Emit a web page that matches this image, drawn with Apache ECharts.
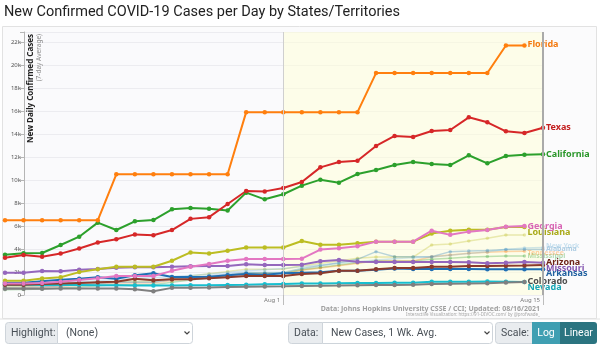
<!DOCTYPE html>
<html>
<head>
<meta charset="utf-8">
<script src="https://cdn.jsdelivr.net/npm/echarts@6/dist/echarts.min.js"></script>
<style>
  html, body { margin: 0; padding: 0; background: #fff; }
  #chart { width: 600px; height: 345px; }
</style>
</head>
<body>
<div id="chart"></div>
<script>
// Days shown on the x axis (7-day averages)
const dates = [
  'Jul 17','Jul 18','Jul 19','Jul 20','Jul 21','Jul 22','Jul 23','Jul 24','Jul 25','Jul 26',
  'Jul 27','Jul 28','Jul 29','Jul 30','Jul 31','Aug 1','Aug 2','Aug 3','Aug 4','Aug 5',
  'Aug 6','Aug 7','Aug 8','Aug 9','Aug 10','Aug 11','Aug 12','Aug 13','Aug 14','Aug 15'
];
const xTickLabels = ['Aug 1', 'Aug 15'];
const yTickLabels = ['0','2k','4k','6k','8k','10k','12k','14k','16k','18k','20k','22k'];

// New daily cases, 7-day average
const florida = [6500,6500,6500,6500,6500,6500,10500,10500,10500,10500,10500,10500,10500,15900,15900,15900,15900,15900,15900,15900,19300,19300,19300,19300,19300,19300,19300,21700,21700];
const texas = [3240,3480,3330,3600,4050,4570,4850,5270,5190,5650,6620,6770,7910,9040,9010,9300,9830,11100,11570,11680,12960,13830,13740,14260,14350,15450,15020,14230,14090,14550];
const california = [3500,3620,3650,4350,5070,6290,5650,6410,6520,7450,7560,7500,7340,8900,8320,8760,9510,10030,9770,10520,10870,11300,11570,11390,11300,12150,11450,12090,12200,12230];
const georgia = [1000,1000,1050,1150,1300,1450,1650,1650,1650,2100,2450,2700,2980,3130,3130,3130,3160,3950,4070,4240,4640,4640,4640,5590,5230,5510,5650,5940,6000];
const louisiana = [1240,1240,1440,1540,1990,2230,2460,2460,2460,2980,3700,3600,3850,4130,4130,4130,4690,4370,4370,4500,4640,4640,4640,5340,5580,5670,5680,5910,5910];
const missouri = [1940,1940,2090,2070,2200,2260,2360,2410,2420,2460,2510,2520,2530,2670,2610,2610,2640,2930,3040,2900,2870,2870,2870,2870,2870,2840,2760,2810,2870,2810];
const arizona = [900,900,950,1000,1050,1100,1150,1420,1280,1360,1380,1450,1550,1650,1650,1650,1830,1890,2110,2110,2230,2350,2350,2460,2460,2520,2520,2550,2560,2600];
const arkansas = [1070,1070,1200,1330,1420,1540,1420,1710,1890,1560,1560,1590,1710,1830,1770,1890,1940,1970,2110,2110,2200,2300,2270,2270,2270,2270,2250,2240,2240,2230];
const colorado = [540,540,540,560,560,560,560,500,330,620,640,660,690,720,740,760,790,800,820,850,870,880,900,960,980,1000,1030,1080,1130];
const nevada = [900,900,880,870,860,850,840,830,820,830,840,850,880,900,930,960,990,1010,1030,1040,1050,1060,1070,1150,1150,1160,1170,1150,1120];
const newYork = [900,950,1000,1080,1150,1250,1350,1450,1500,1600,1700,1800,1950,2100,2200,2300,2450,2600,2750,2900,3050,3150,3250,3300,3450,3600,3750,3950,4080,4120];
const alabama = [650,650,700,800,900,1000,1100,1100,1100,1350,1500,1650,1800,1950,1950,1950,2300,2550,2800,3100,3770,3330,3330,3330,3770,3820,3880,3950,3960,3960];
const tennessee = [600,620,680,750,850,950,1050,1050,1050,1250,1400,1550,1700,1850,1850,1850,2150,2350,2550,2750,2950,2950,2950,3330,3480,3630,3720,3780,3800];
const mississippi = [450,470,520,600,700,800,900,900,900,1100,1300,1500,1700,1900,1900,1900,2200,2400,2600,2800,2950,2950,2950,3100,3200,3300,3350,3400,3400];
const southCarolina = [700,750,800,900,1000,1100,1200,1200,1200,1450,1650,1850,2050,2250,2250,2250,2550,2750,2950,3190,3300,3300,3300,4350,4440,4700,4930,5220,5220];

const FONT = "'Noto Sans', sans-serif";
const Y_MAX = 22870;

function stateLine(name, values, color, labelColor, dy, faded, labeled) {
  return {
    name: name,
    type: 'line',
    xAxisIndex: 0,
    yAxisIndex: 0,
    data: values.map((v, i) => [i, v]),
    symbol: 'circle',
    symbolSize: faded ? 3.5 : 4.5,
    showSymbol: true,
    z: faded ? 2 : 3,
    lineStyle: { color: color, width: faded ? 1.5 : 2, opacity: faded ? 0.3 : 1 },
    itemStyle: { color: color, opacity: faded ? 0.3 : 1 },
    emphasis: { disabled: true },
    endLabel: {
      show: labeled !== false,
      formatter: '{a}',
      color: labelColor,
      fontFamily: FONT,
      fontWeight: 'bold',
      fontSize: faded ? 7 : 9,
      distance: 3,
      offset: [0, dy],
      opacity: faded ? 0.35 : 1
    }
  };
}

const series = [
  stateLine('South Carolina', southCarolina, '#bcbd22', '#bcbd22', 0, true, false),
  stateLine('Mississippi', mississippi, '#2ca02c', '#2ca02c', 0, true),
  stateLine('Tennessee', tennessee, '#ff7f0e', '#ff7f0e', 1.4, true),
  stateLine('Alabama', alabama, '#1f77b4', '#1f77b4', -0.5, true),
  stateLine('New York', newYork, '#6baed6', '#6baed6', -1.6, true),
  stateLine('Nevada', nevada, '#17becf', '#17a5b5', 5.6, false),
  stateLine('Colorado', colorado, '#7f7f7f', '#4d4d4d', -0.7, false),
  stateLine('Arkansas', arkansas, '#1f6fb4', '#1f5f9f', 4.3, false),
  stateLine('Arizona', arizona, '#8c3a2b', '#6e2418', -2.8, false),
  stateLine('Missouri', missouri, '#9467bd', '#8456b0', 5.3, false),
  stateLine('Louisiana', louisiana, '#bcbd22', '#a9aa1a', 5.7, false),
  stateLine('Georgia', georgia, '#e377c2', '#d865b5', 0, false),
  stateLine('California', california, '#2ca02c', '#2a962a', 0, false),
  stateLine('Texas', texas, '#d62728', '#c42020', 0, false),
  stateLine('Florida', florida, '#ff7f0e', '#f47a10', -1, false)
];

// Background band for the latest two weeks, and day markers
series.push({
  name: 'bands',
  type: 'line',
  xAxisIndex: 0,
  yAxisIndex: 0,
  data: [],
  silent: true,
  z: 1,
  markArea: {
    silent: true,
    itemStyle: { color: 'rgba(255,255,214,0.5)' },
    data: [[{ xAxis: dates.indexOf('Aug 1') }, { xAxis: dates.indexOf('Aug 15') }]]
  },
  markLine: {
    silent: true,
    symbol: 'none',
    label: { show: false },
    data: [
      { xAxis: dates.indexOf('Aug 1'), lineStyle: { color: '#cfcfcf', width: 1, type: 'solid' } },
      { xAxis: dates.indexOf('Aug 15'), lineStyle: { color: '#aaaaaa', width: 2, type: 'solid' } }
    ]
  }
});

const tickIdx = xTickLabels.map(l => dates.indexOf(l));

const chart = echarts.init(document.getElementById('chart'), null, { renderer: 'canvas' });

const ctrlText = { fontFamily: "Roboto, 'Noto Sans', sans-serif", fontSize: 10.5, fill: '#495057' };

chart.setOption({
  animation: false,
  backgroundColor: '#ffffff',
  grid: [
    // data area: starts one day before the visible axis
    { left: 5, right: 57, top: 32, bottom: 50, show: false },
    // axis frame with grid lines
    { left: 24, right: 57, top: 32, bottom: 50, show: true, backgroundColor: '#fafafc', borderWidth: 0 }
  ],
  xAxis: [
    {
      gridIndex: 0,
      type: 'value',
      min: 0,
      max: dates.length - 1,
      axisLine: { show: false },
      splitLine: { show: false },
      axisTick: { show: true, customValues: tickIdx, length: 10, lineStyle: { color: '#bdbdbd' } },
      axisLabel: {
        customValues: tickIdx,
        formatter: v => dates[v],
        fontSize: 6, color: '#777', fontFamily: FONT,
        align: 'right', margin: 2, padding: [0, 3, 0, 0]
      }
    },
    { gridIndex: 1, type: 'value', min: 0, max: 1, show: false }
  ],
  yAxis: [
    { gridIndex: 0, type: 'value', min: 0, max: Y_MAX, show: false, splitLine: { show: false } },
    {
      gridIndex: 1,
      type: 'value',
      min: 0,
      max: Y_MAX,
      interval: 2000,
      axisLine: { show: true, lineStyle: { color: '#b5b5b5' } },
      axisTick: { show: true, length: 4, lineStyle: { color: '#b5b5b5' } },
      splitLine: { show: true, lineStyle: { color: '#ececf0', width: 1 } },
      axisLabel: {
        fontSize: 6, color: '#555', fontFamily: FONT, margin: 3,
        formatter: v => (v % 2000 === 0 ? yTickLabels[v / 2000] : '')
      }
    }
  ],
  series: series,
  graphic: [
    // panel frame
    { type: 'rect', z: -5, shape: { x: 2.5, y: 26.5, width: 594, height: 292 },
      style: { fill: '#fbfbfc', stroke: '#e2e2e2', lineWidth: 1 } },
    // title
    { type: 'text', x: 4, y: 12, style: { text: 'New Confirmed COVID-19 Cases per Day by States/Territories',
      fontFamily: "Roboto, 'Noto Sans', sans-serif", fontSize: 14.5, fill: '#222', verticalAlign: 'middle' } },
    // y axis title
    { type: 'text', x: 31, y: 34, rotation: Math.PI / 2, z: 10,
      style: { text: 'New Daily Confirmed Cases', fontFamily: FONT, fontWeight: 'bold', fontSize: 8,
        fill: '#222', align: 'right', verticalAlign: 'middle' } },
    { type: 'text', x: 39, y: 34, rotation: Math.PI / 2, z: 10,
      style: { text: '(7-day Average)', fontFamily: FONT, fontSize: 6.5,
        fill: '#8a8a8a', align: 'right', verticalAlign: 'middle' } },
    // source notes
    { type: 'text', x: 540, y: 308.5, style: { text: 'Data: Johns Hopkins University CSSE / CCI; Updated: 08/16/2021',
      fontFamily: FONT, fontWeight: 'bold', fontSize: 7, fill: '#a0a0a0', align: 'right', verticalAlign: 'middle' } },
    { type: 'text', x: 540, y: 315, style: { text: 'Interactive Visualization: https://91-DIVOC.com/ by @profwade_',
      fontFamily: FONT, fontSize: 4.5, fill: '#a8a8a8', align: 'right', verticalAlign: 'middle' } },
    // controls
    { type: 'rect', shape: { x: 5.5, y: 322.5, width: 52, height: 21, r: [3, 0, 0, 3] },
      style: { fill: '#e9ecef', stroke: '#ced4da' } },
    { type: 'text', x: 11, y: 333, style: Object.assign({ text: 'Highlight:', verticalAlign: 'middle' }, ctrlText) },
    { type: 'rect', shape: { x: 57.5, y: 322.5, width: 135, height: 21, r: [0, 3, 3, 0] },
      style: { fill: '#fff', stroke: '#ced4da' } },
    { type: 'text', x: 66, y: 333, style: Object.assign({ text: '(None)', verticalAlign: 'middle' }, ctrlText) },
    { type: 'polyline', shape: { points: [[184.5, 331.5], [187, 334], [189.5, 331.5]] },
      style: { stroke: '#444', lineWidth: 1.2, fill: null } },

    { type: 'rect', shape: { x: 288.5, y: 322.5, width: 34, height: 21, r: [3, 0, 0, 3] },
      style: { fill: '#e9ecef', stroke: '#ced4da' } },
    { type: 'text', x: 294, y: 333, style: Object.assign({ text: 'Data:', verticalAlign: 'middle' }, ctrlText) },
    { type: 'rect', shape: { x: 322.5, y: 322.5, width: 170, height: 21, r: [0, 3, 3, 0] },
      style: { fill: '#fff', stroke: '#ced4da' } },
    { type: 'text', x: 331, y: 333, style: Object.assign({ text: 'New Cases, 1 Wk. Avg.', verticalAlign: 'middle' }, ctrlText) },
    { type: 'polyline', shape: { points: [[484.5, 331.5], [487, 334], [489.5, 331.5]] },
      style: { stroke: '#444', lineWidth: 1.2, fill: null } },

    { type: 'rect', shape: { x: 495.5, y: 322.5, width: 37, height: 21, r: [3, 0, 0, 3] },
      style: { fill: '#e9ecef', stroke: '#ced4da' } },
    { type: 'text', x: 501, y: 333, style: Object.assign({ text: 'Scale:', verticalAlign: 'middle' }, ctrlText) },
    { type: 'rect', shape: { x: 532, y: 322, width: 28, height: 22 },
      style: { fill: '#3f9fb2' } },
    { type: 'text', x: 546, y: 333, style: { text: 'Log', fontFamily: "Roboto, 'Noto Sans', sans-serif",
      fontSize: 10.5, fill: '#fff', align: 'center', verticalAlign: 'middle' } },
    { type: 'rect', shape: { x: 560, y: 322, width: 37, height: 22, r: [0, 3, 3, 0] },
      style: { fill: '#2b7480' } },
    { type: 'text', x: 578.5, y: 333, style: { text: 'Linear', fontFamily: "Roboto, 'Noto Sans', sans-serif",
      fontSize: 10.5, fill: '#fff', align: 'center', verticalAlign: 'middle' } },
    // divider above controls
    { type: 'line', shape: { x1: 0, y1: 319, x2: 600, y2: 319 }, style: { stroke: '#e2e2e2', lineWidth: 1 } }
  ]
});
</script>
</body>
</html>
